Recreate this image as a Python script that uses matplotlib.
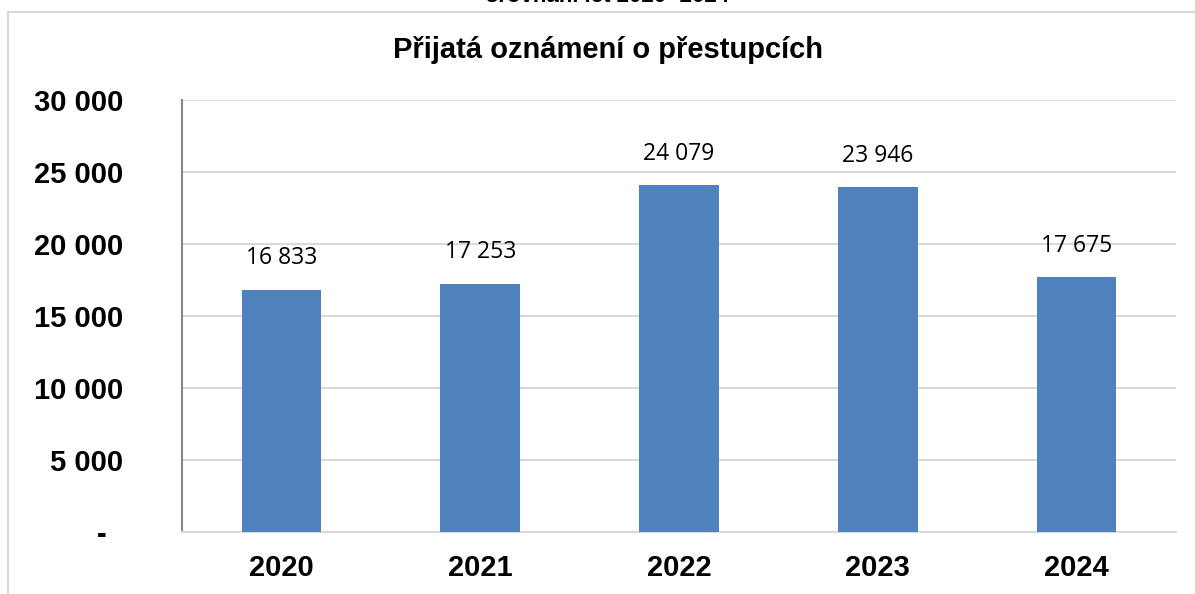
import matplotlib
matplotlib.use("Agg")
import matplotlib.pyplot as plt
from matplotlib.patches import Rectangle
from matplotlib.ticker import FixedLocator

years = ["2020", "2021", "2022", "2023", "2024"]
values = [16833, 17253, 24079, 23946, 17675]
yticks = [0, 5000, 10000, 15000, 20000, 25000, 30000]
ytick_labels = ["-  ", "5 000", "10 000", "15 000", "20 000", "25 000", "30 000"]
title = "Přijatá oznámení o přestupcích"
top_text = "srovnání let 2020 -2024"

W, H = 1195, 594
fig = plt.figure(figsize=(W / 100, H / 100), dpi=100)
fig.patch.set_facecolor("white")

# outer chart frame (partially outside the image)
fig.patches.append(Rectangle((8 / W, -0.1), 1.2, 1 - 12 / H + 0.1, transform=fig.transFigure,
                             fill=False, edgecolor="#d9d9d9", linewidth=1.5))

# clipped heading above the frame
fig.text(608 / W, 1 - 7 / H, top_text, ha="center", va="bottom",
         fontsize=16, fontweight="bold", family=["Liberation Sans Narrow", "Liberation Sans", "DejaVu Sans"])

ax = fig.add_axes([182 / W, 1 - 532 / H, (1176 - 182) / W, (532 - 100) / H])
x = list(range(len(years)))
bars = ax.bar(x, values, width=0.4, color="#4F81BD", zorder=3)
ax.set_xlim(-0.5, len(years) - 0.5)
ax.set_ylim(0, 30000)
ax.yaxis.set_major_locator(FixedLocator(yticks))
ax.set_yticklabels(ytick_labels)
ax.set_xticks(x)
ax.set_xticklabels(years)
ax.grid(axis="y", color="#d9d9d9", linewidth=1.5, zorder=0)
for s in ["top", "right"]:
    ax.spines[s].set_visible(False)
ax.spines["left"].set_color("#868686")
ax.spines["left"].set_linewidth(1.5)
ax.spines["bottom"].set_color("#d9d9d9")
ax.spines["bottom"].set_linewidth(1.5)
ax.tick_params(axis="both", length=0)
ax.tick_params(axis="y", pad=42.5)
ax.tick_params(axis="x", pad=16)
for lab in ax.get_yticklabels() + ax.get_xticklabels():
    lab.set_fontfamily(["Liberation Sans", "DejaVu Sans"])
    lab.set_fontweight("bold")
    lab.set_fontsize(21)
    lab.set_color("black")

for b, v in zip(bars, values):
    ax.annotate(f"{v:,}".replace(",", " "), (b.get_x() + b.get_width() / 2, v),
                xytext=(0, 14), textcoords="offset points", ha="center", va="bottom",
                fontsize=16.5, family=["Open Sans", "DejaVu Sans"], color="black")

fig.text(608 / W, 1 - 50 / H, title, ha="center", va="center", fontsize=21, fontweight="bold",
         family=["Liberation Sans", "DejaVu Sans"])

fig.savefig("out.png", dpi=100)
